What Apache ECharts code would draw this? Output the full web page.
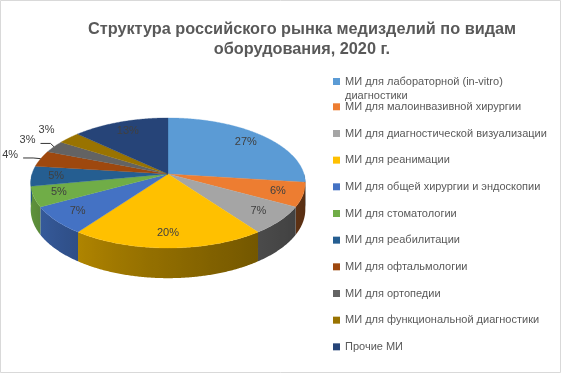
<!DOCTYPE html>
<html>
<head>
<meta charset="utf-8">
<script src="https://cdn.jsdelivr.net/npm/echarts@6/dist/echarts.min.js"></script>
<style>
html,body{margin:0;padding:0;background:#fff;}
#c{width:561px;height:373px;}
</style>
</head>
<body>
<div id="c"></div>
<script>
const categories = [
  'МИ для лабораторной (in-vitro) диагностики',
  'МИ для малоинвазивной хирургии',
  'МИ для диагностической визуализации',
  'МИ для реанимации',
  'МИ для общей хирургии и эндоскопии',
  'МИ для стоматологии',
  'МИ для реабилитации',
  'МИ для офтальмологии',
  'МИ для ортопедии',
  'МИ для функциональной диагностики',
  'Прочие МИ'
];
const values = [27, 6, 7, 20, 7, 5, 5, 4, 3, 3, 13];
const colors = ['#5B9BD5','#ED7D31','#A5A5A5','#FFC000','#4472C4','#70AD47','#255E91','#9E480E','#636363','#997300','#264478'];
const titleText = 'Структура российского рынка медизделий по видам\nоборудования, 2020 г.';

// 3D pie geometry (style)
const CX = 168, CY = 174, A = 136, B = 63.8, K = 0.138, H = 26;
const FONT = 'Liberation Sans, Arial, sans-serif';
const total = values.reduce((s, v) => s + v, 0);
const cum = [];
values.reduce((s, v, i) => { cum[i] = s; return s + v; }, 0);

function proj(theta, r) {
  const u = r * Math.sin(theta), v = r * Math.cos(theta);
  const d = 1 + K * v;
  return [CX + A * u / d, CY - B * v / d];
}
function projBottom(theta) {
  const v = Math.cos(theta);
  const p = proj(theta, 1);
  return [p[0], p[1] + H / (1 + K * v)];
}
function shade(hex, f) {
  const n = parseInt(hex.slice(1), 16);
  const r = Math.round(((n >> 16) & 255) * f), g = Math.round(((n >> 8) & 255) * f), b = Math.round((n & 255) * f);
  return 'rgb(' + r + ',' + g + ',' + b + ')';
}
function shadeFactor(theta) {
  const t = Math.max(0, Math.min(1, (theta - Math.PI / 2) / Math.PI));
  return 0.36 + 0.56 * Math.pow(t, 1.5);
}
function wrapName(name) {
  if (name.length <= 36) return name;
  const cut = name.lastIndexOf(' ', 32);
  return name.slice(0, cut) + '\n' + name.slice(cut + 1);
}

function renderItem(params, api) {
  const i = params.dataIndex;
  const val = api.value(0);
  const s = cum[i] / total * Math.PI * 2;
  const e = (cum[i] + val) / total * Math.PI * 2;
  const children = [];
  const step = Math.PI / 360;
  const a = Math.max(s, Math.PI / 2), b = Math.min(e, Math.PI * 1.5);
  if (b > a) {
    const top = [], bot = [], stops = [];
    const n = Math.max(2, Math.ceil((b - a) / step));
    for (let k = 0; k <= n; k++) {
      const th = a + (b - a) * k / n;
      top.push(proj(th, 1));
      bot.push(projBottom(th));
    }
    const xs = top.map(p => p[0]);
    const minX = Math.min.apply(null, xs), maxX = Math.max.apply(null, xs);
    for (let k = n; k >= 0; k--) {
      const th = a + (b - a) * k / n;
      const off = maxX > minX ? (xs[k] - minX) / (maxX - minX) : 0;
      if (k % 4 === 0 || k === n) stops.push({ offset: Math.max(0, Math.min(1, off)), color: shade(colors[i], shadeFactor(th)) });
    }
    stops.sort((p, q) => p.offset - q.offset);
    children.push({
      type: 'polygon', z2: 1,
      shape: { points: top.concat(bot.reverse()) },
      style: { fill: new echarts.graphic.LinearGradient(0, 0, 1, 0, stops), stroke: null }
    });
  }
  const pts = [proj(0, 0)];
  const m = Math.max(2, Math.ceil((e - s) / step));
  for (let k = 0; k <= m; k++) pts.push(proj(s + (e - s) * k / m, 1));
  children.push({
    type: 'polygon', z2: 2,
    shape: { points: pts },
    style: { fill: colors[i], stroke: colors[i], lineWidth: 0.3 }
  });
  const mid = (s + e) / 2;
  const txt = Math.round(val / total * 100) + '%';
  const inside = val / total >= 0.05;
  const lp = proj(mid, inside ? 0.82 : 1.25);
  children.push({
    type: 'text', z2: 5,
    style: { text: txt, x: lp[0], y: lp[1], align: 'center', verticalAlign: 'middle', fill: '#404040', font: '11px ' + FONT }
  });
  if (!inside) {
    const ep = proj(mid, 1);
    const dist = Math.hypot(ep[0] - lp[0], ep[1] - lp[1]);
    if (dist > 25) {
      const x0 = lp[0] + 13, y0 = lp[1] + 3;
      children.push({
        type: 'polyline', z2: 5,
        shape: { points: [[x0, y0], [x0 + 10, y0], ep] },
        style: { stroke: '#000', lineWidth: 0.8, fill: null }
      });
    }
  }
  return { type: 'group', children: children };
}

const legendText = { fontFamily: FONT, fontSize: 11, color: '#595959', lineHeight: 14 };
const chart = echarts.init(document.getElementById('c'), null, { renderer: 'canvas' });
chart.setOption({
  animation: false,
  backgroundColor: '#fff',
  title: {
    text: titleText,
    left: 297, top: 15, textAlign: 'center',
    textStyle: { fontFamily: FONT, fontSize: 16.3, fontWeight: 'bold', color: '#595959', lineHeight: 20 }
  },
  legend: [
    {
      orient: 'vertical', left: 328, top: 69.5,
      itemWidth: 7, itemHeight: 28, selectedMode: false,
      icon: 'path://M0,0L7,0L7,7L0,7ZM0,21L0.01,21L0.01,21.01Z',
      data: categories.slice(0, 1),
      formatter: wrapName,
      textStyle: legendText
    },
    {
      orient: 'vertical', left: 328, top: 94.8,
      itemWidth: 7, itemHeight: 7, itemGap: 12.67, icon: 'rect', selectedMode: false,
      data: categories.slice(1),
      formatter: wrapName,
      textStyle: legendText
    }
  ],
  graphic: [{
    type: 'rect', shape: { x: 0.5, y: 0.5, width: 560, height: 372 },
    style: { fill: null, stroke: '#D9D9D9', lineWidth: 1 }, z: 100
  }],
  series: [
    {
      type: 'pie', radius: [0, 0], center: [-50, -50], silent: true,
      label: { show: false }, labelLine: { show: false },
      data: categories.map((c, i) => ({ name: c, value: values[i], itemStyle: { color: colors[i] } }))
    },
    {
      type: 'custom', coordinateSystem: 'none', silent: true,
      renderItem: renderItem,
      data: values.map(v => [v])
    }
  ]
});
</script>
</body>
</html>
